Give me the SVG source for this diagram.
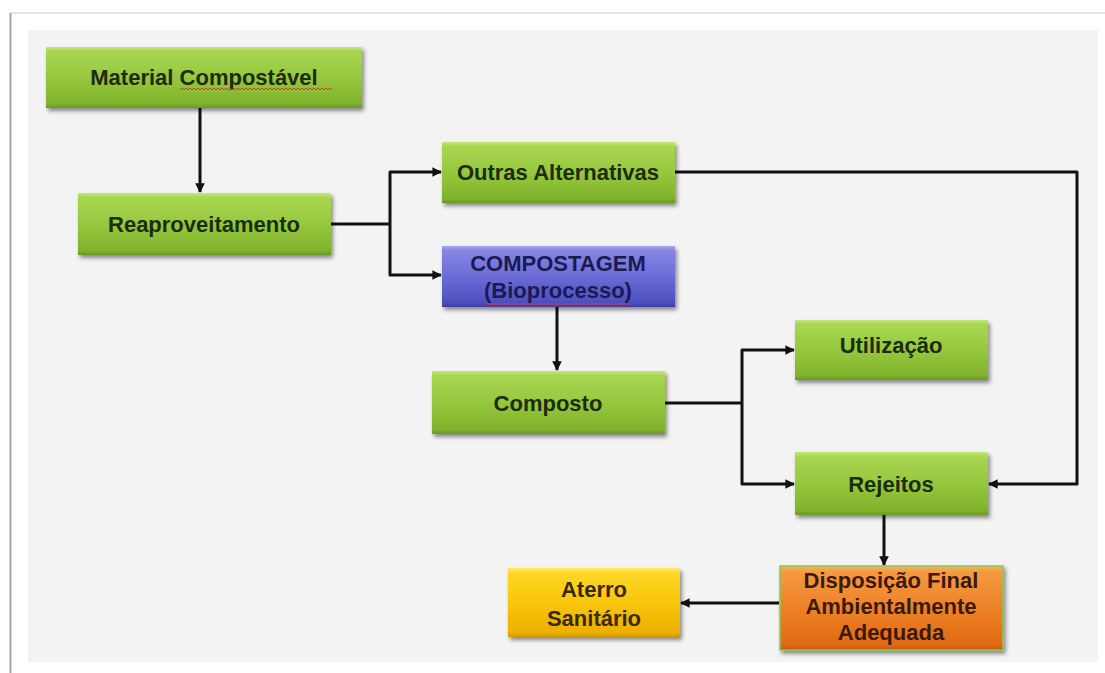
<svg xmlns="http://www.w3.org/2000/svg" width="1105" height="673" viewBox="0 0 1105 673">
  <defs>
    <linearGradient id="gGreen" x1="0" y1="0" x2="0" y2="1">
      <stop offset="0" stop-color="#c4e87c"/>
      <stop offset="0.07" stop-color="#a8d652"/>
      <stop offset="0.5" stop-color="#96c83e"/>
      <stop offset="0.93" stop-color="#80b22c"/>
      <stop offset="1" stop-color="#6a9824"/>
    </linearGradient>
    <linearGradient id="gBlue" x1="0" y1="0" x2="0" y2="1">
      <stop offset="0" stop-color="#a8a8f0"/>
      <stop offset="0.07" stop-color="#8686e2"/>
      <stop offset="0.5" stop-color="#6c6cd6"/>
      <stop offset="0.93" stop-color="#4e4ebe"/>
      <stop offset="1" stop-color="#3c3ca4"/>
    </linearGradient>
    <linearGradient id="gOrange" x1="0" y1="0" x2="0" y2="1">
      <stop offset="0" stop-color="#f8b266"/>
      <stop offset="0.07" stop-color="#f59a40"/>
      <stop offset="0.5" stop-color="#ee8228"/>
      <stop offset="0.93" stop-color="#e26a14"/>
      <stop offset="1" stop-color="#c85a10"/>
    </linearGradient>
    <linearGradient id="gYellow" x1="0" y1="0" x2="0" y2="1">
      <stop offset="0" stop-color="#ffe870"/>
      <stop offset="0.07" stop-color="#ffd828"/>
      <stop offset="0.5" stop-color="#f8c60a"/>
      <stop offset="0.93" stop-color="#eeb000"/>
      <stop offset="1" stop-color="#d49a00"/>
    </linearGradient>
    <filter id="shadow" x="-10%" y="-20%" width="125%" height="150%">
      <feGaussianBlur in="SourceAlpha" stdDeviation="2"/>
      <feOffset dx="2" dy="3" result="b"/>
      <feComponentTransfer><feFuncA type="linear" slope="0.45"/></feComponentTransfer>
      <feMerge><feMergeNode/><feMergeNode in="SourceGraphic"/></feMerge>
    </filter>
    <marker id="arrow" viewBox="0 0 10 10" refX="9" refY="5" markerWidth="3.2" markerHeight="3.2" orient="auto" markerUnits="strokeWidth">
      <path d="M0,0 L10,5 L0,10 Z" fill="#111"/>
    </marker>
    <style>
      .box { filter: url(#shadow); }
      .green { fill: url(#gGreen); }
      .blue { fill: url(#gBlue); }
      .orange { fill: url(#gOrange); stroke: #86c84e; stroke-width: 1.5; }
      .yellow { fill: url(#gYellow); }
      .lbl { font-family: "Liberation Sans", Arial, sans-serif; font-weight: bold; font-size: 22px; text-anchor: middle; }
      .tg { fill: #1c2c0c; }
      .tb { fill: #1a1a54; }
      .to { fill: #3a1a08; }
      .ty { fill: #3a2a04; }
      .squiggle { fill: none; stroke: #d83a3a; stroke-width: 1; }
      .conn path { fill: none; stroke: #111; stroke-width: 3; stroke-linejoin: round; }
    </style>
  </defs>

  <!-- page and panel -->
  <rect x="0" y="0" width="1105" height="673" fill="#ffffff"/>
  <line x1="10" y1="13" x2="1105" y2="13" stroke="#dcdcdc" stroke-width="1.5"/>
  <line x1="10.5" y1="13" x2="10.5" y2="673" stroke="#a8a8a8" stroke-width="2"/>
  <rect x="28" y="30" width="1070" height="632" fill="#f3f3f3"/>

  <!-- connectors -->
  <g id="connectors" class="conn">
    <path d="M200,108 V192" marker-end="url(#arrow)"/>
    <path d="M331,224 H390"/>
    <path d="M390,224 V172 H441" marker-end="url(#arrow)"/>
    <path d="M390,224 V275 H441" marker-end="url(#arrow)"/>
    <path d="M557,307 V370" marker-end="url(#arrow)"/>
    <path d="M665,403 H742"/>
    <path d="M742,403 V350 H794" marker-end="url(#arrow)"/>
    <path d="M742,403 V484 H794" marker-end="url(#arrow)"/>
    <path d="M675,172 H1077 V484 H989" marker-end="url(#arrow)"/>
    <path d="M884,515 V565" marker-end="url(#arrow)"/>
    <path d="M779,603 H681" marker-end="url(#arrow)"/>
  </g>

  <g id="material-compostavel">
    <rect class="box green" x="46" y="47" width="316" height="61"/>
    <text class="lbl tg" x="204" y="85">Material Compostável</text>
    <path class="squiggle" d="M180,90 l2,-2 l2,2 l2,-2 l2,2 l2,-2 l2,2 l2,-2 l2,2 l2,-2 l2,2 l2,-2 l2,2 l2,-2 l2,2 l2,-2 l2,2 l2,-2 l2,2 l2,-2 l2,2 l2,-2 l2,2 l2,-2 l2,2 l2,-2 l2,2 l2,-2 l2,2 l2,-2 l2,2 l2,-2 l2,2 l2,-2 l2,2 l2,-2 l2,2 l2,-2 l2,2 l2,-2 l2,2 l2,-2 l2,2 l2,-2 l2,2 l2,-2 l2,2 l2,-2 l2,2 l2,-2 l2,2 l2,-2 l2,2 l2,-2 l2,2 l2,-2 l2,2 l2,-2 l2,2 l2,-2 l2,2 l2,-2 l2,2 l2,-2 l2,2 l2,-2 l2,2 l2,-2 l2,2 l2,-2 l2,2 l2,-2 l2,2 l2,-2 l2,2 l2,-2 l2,2"/>
  </g>

  <g id="reaproveitamento">
    <rect class="box green" x="78" y="193" width="253" height="62"/>
    <text class="lbl tg" x="204" y="232">Reaproveitamento</text>
  </g>

  <g id="outras-alternativas">
    <rect class="box green" x="442" y="142" width="233" height="61"/>
    <text class="lbl tg" x="558" y="180">Outras Alternativas</text>
  </g>

  <g id="compostagem">
    <rect class="box blue" x="442" y="246" width="233" height="61"/>
    <text class="lbl tb" x="558" y="271">COMPOSTAGEM</text>
    <text class="lbl tb" x="558" y="298">(Bioprocesso)</text>
    <path class="squiggle" d="M486,305 l2,-2 l2,2 l2,-2 l2,2 l2,-2 l2,2 l2,-2 l2,2 l2,-2 l2,2 l2,-2 l2,2 l2,-2 l2,2 l2,-2 l2,2 l2,-2 l2,2 l2,-2 l2,2 l2,-2 l2,2 l2,-2 l2,2 l2,-2 l2,2 l2,-2 l2,2 l2,-2 l2,2 l2,-2 l2,2 l2,-2 l2,2 l2,-2 l2,2 l2,-2 l2,2 l2,-2 l2,2 l2,-2 l2,2 l2,-2 l2,2 l2,-2 l2,2 l2,-2 l2,2 l2,-2 l2,2 l2,-2 l2,2 l2,-2 l2,2 l2,-2 l2,2 l2,-2 l2,2 l2,-2 l2,2 l2,-2 l2,2 l2,-2 l2,2 l2,-2 l2,2 l2,-2 l2,2 l2,-2 l2,2 l2,-2 l2,2"/>
  </g>

  <g id="composto">
    <rect class="box green" x="432" y="371" width="233" height="63"/>
    <text class="lbl tg" x="548" y="411">Composto</text>
  </g>

  <g id="utilizacao">
    <rect class="box green" x="795" y="320" width="193" height="60"/>
    <text class="lbl tg" x="891" y="353">Utilização</text>
  </g>

  <g id="rejeitos">
    <rect class="box green" x="795" y="452" width="193" height="63"/>
    <text class="lbl tg" x="891" y="492">Rejeitos</text>
  </g>

  <g id="disposicao-final">
    <rect class="box orange" x="780" y="566" width="223" height="84"/>
    <text class="lbl to" x="891" y="588">Disposição Final</text>
    <text class="lbl to" x="891" y="614">Ambientalmente</text>
    <text class="lbl to" x="891" y="640">Adequada</text>
  </g>

  <g id="aterro-sanitario">
    <rect class="box yellow" x="508" y="568" width="172" height="69"/>
    <text class="lbl ty" x="594" y="597">Aterro</text>
    <text class="lbl ty" x="594" y="626">Sanitário</text>
  </g>
</svg>
